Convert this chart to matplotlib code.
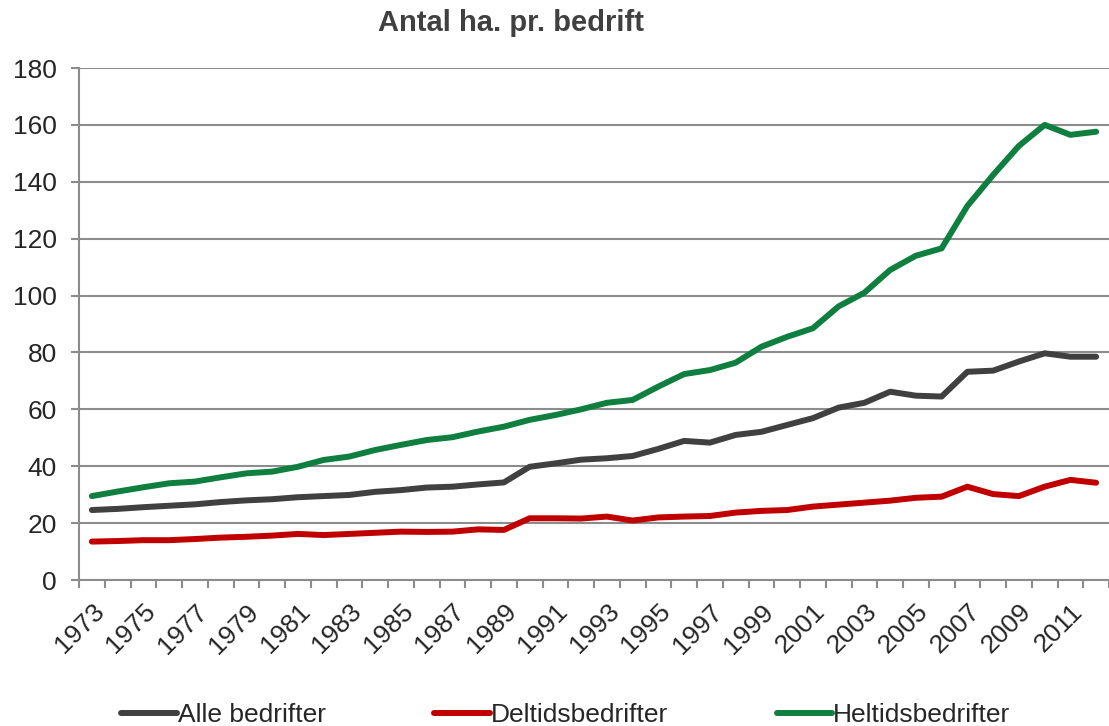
import matplotlib.pyplot as plt
import matplotlib.transforms as mtransforms
import numpy as np

plt.rcParams['font.family'] = ['Liberation Sans', 'DejaVu Sans']

years = list(range(1973, 2013))
alle = [24.6, 25.0, 25.6, 26.1, 26.6, 27.4, 28.0, 28.4, 29.1, 29.5,
        29.9, 31.0, 31.6, 32.5, 32.8, 33.6, 34.3, 39.8, 41.0, 42.3,
        42.8, 43.6, 46.1, 48.9, 48.3, 51.0, 52.1, 54.5, 56.9, 60.6,
        62.3, 66.2, 64.8, 64.5, 73.2, 73.6, 76.8, 79.7, 78.5, 78.5]
deltid = [13.5, 13.7, 14.0, 14.0, 14.4, 14.9, 15.2, 15.6, 16.2, 15.8,
          16.2, 16.6, 17.0, 16.9, 17.0, 17.8, 17.6, 21.7, 21.7, 21.6,
          22.3, 20.9, 22.0, 22.3, 22.5, 23.7, 24.3, 24.6, 25.8, 26.5,
          27.2, 27.9, 28.9, 29.3, 32.8, 30.2, 29.5, 32.8, 35.2, 34.2]
heltid = [29.5, 31.1, 32.6, 34.0, 34.6, 36.1, 37.5, 38.1, 39.8, 42.2,
          43.4, 45.7, 47.5, 49.2, 50.2, 52.2, 53.9, 56.3, 58.0, 60.0,
          62.3, 63.3, 68.0, 72.4, 73.8, 76.4, 82.0, 85.5, 88.5, 96.2,
          101.0, 109.0, 114.0, 116.6, 131.5, 142.4, 152.6, 160.0, 156.5, 157.6]

fig = plt.figure(figsize=(11.09, 7.26), dpi=100)
ax = fig.add_axes([79/1109, 1 - 580/726, 1 - 79/1109, (580 - 68)/726])

x = np.arange(len(years))
style = dict(lw=4.3, solid_capstyle='round', solid_joinstyle='round', zorder=3)
ax.plot(x, alle, color='#404040', label='Alle bedrifter', **style)
ax.plot(x, deltid, color='#C00000', label='Deltidsbedrifter', **style)
ax.plot(x, heltid, color='#0E7F3E', label='Heltidsbedrifter', **style)

ax.set_ylim(0, 180)
ax.set_xlim(-0.5, (1109 - 79)/26 - 0.5)
ax.set_yticks(range(0, 181, 20))
ax.yaxis.grid(True, color='#8c8c8c', lw=1.5)
ax.set_axisbelow(True)

ax.set_xticks(x[::2])
ax.set_xticklabels([str(y) for y in years[::2]], rotation=45, ha='right', va='top',
                   rotation_mode='anchor')
shift = mtransforms.ScaledTranslation(-2/100, 0, fig.dpi_scale_trans)
for lab in ax.get_xticklabels():
    lab.set_transform(lab.get_transform() + shift)
ax.set_xticks(np.arange(-0.5, len(years), 1), minor=True)
ax.tick_params(axis='x', which='major', length=0, pad=14)
ax.tick_params(axis='x', which='minor', length=6, width=1.5, color='#8c8c8c')
ax.tick_params(axis='y', length=6, width=1.5, color='#8c8c8c', pad=10)
ax.tick_params(labelsize=19, labelcolor='#262626')

for s in ['top', 'right']:
    ax.spines[s].set_visible(False)
for s in ['left', 'bottom']:
    ax.spines[s].set_color('#8c8c8c')
    ax.spines[s].set_linewidth(1.5)

fig.text(511/1109, 1 - 23/726, 'Antal ha. pr. bedrift', ha='center', va='center',
         fontsize=21, fontweight='bold', color='#404040')

fig.legend(loc='center', bbox_to_anchor=(566/1109, 1 - 715/726), ncol=3, frameon=False,
           fontsize=19, handlelength=2.1, handletextpad=0.05, columnspacing=4.1,
           labelcolor='#262626', borderpad=0)

fig.savefig('out.png', dpi=100)
